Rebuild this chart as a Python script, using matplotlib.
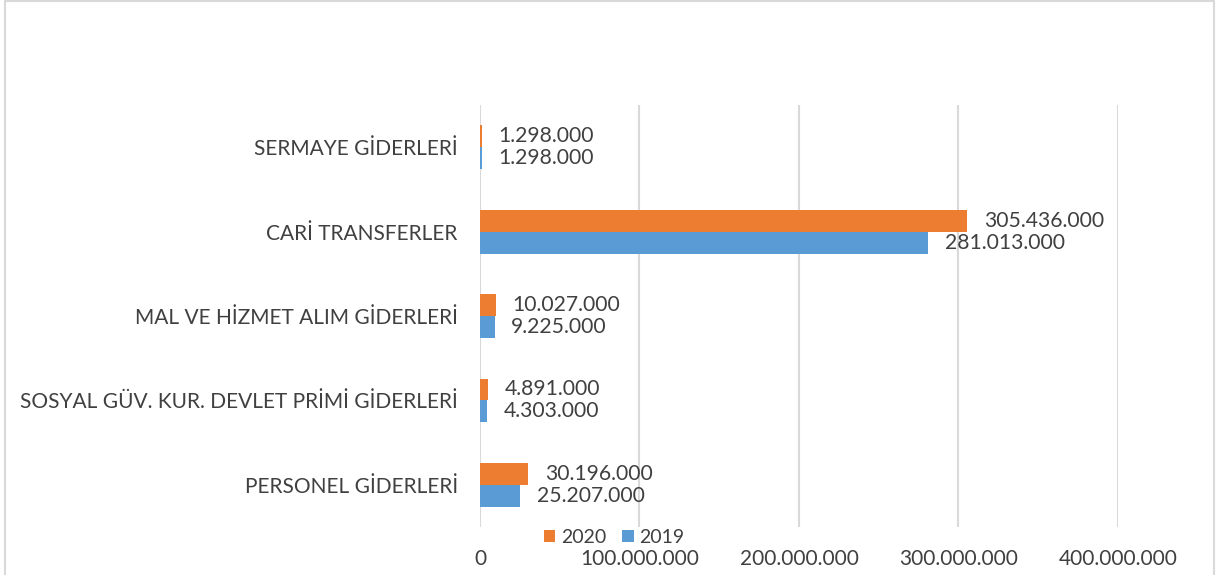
import matplotlib.pyplot as plt
import numpy as np
from matplotlib.patches import Rectangle

plt.rcParams['font.family'] = ['Lato', 'DejaVu Sans']

# veriler (alttan üste)
categories = ['PERSONEL GİDERLERİ', 'SOSYAL GÜV. KUR. DEVLET PRİMİ GİDERLERİ',
              'MAL VE HİZMET ALIM GİDERLERİ', 'CARİ TRANSFERLER', 'SERMAYE GİDERLERİ']
values_2019 = [25207000, 4303000, 9225000, 281013000, 1298000]
values_2020 = [30196000, 4891000, 10027000, 305436000, 1298000]
xticks = [0, 100000000, 200000000, 300000000, 400000000]

def tr_fmt(v):
    return f'{v:,.0f}'.replace(',', '.')

fig = plt.figure(figsize=(12.16, 5.75), dpi=100)
ax = fig.add_axes([0.3947, 0.0835, 0.5247, 0.7335])

y = np.arange(len(categories))
h = 0.26
b20 = ax.barh(y + h / 2, values_2020, height=h, color='#ED7D31', label='2020', zorder=3)
b19 = ax.barh(y - h / 2, values_2019, height=h, color='#5B9BD5', label='2019', zorder=3)

for bars, vals in ((b20, values_2020), (b19, values_2019)):
    for rect, v in zip(bars, vals):
        ax.annotate(tr_fmt(v), (v, rect.get_y() + rect.get_height() / 2),
                    xytext=(12, 0), textcoords='offset points',
                    ha='left', va='center', fontsize=15.2, color='#404040')

ax.set_xlim(0, 400000000)
ax.set_ylim(-0.5, len(categories) - 0.5)
ax.set_xticks(xticks)
ax.set_xticklabels([tr_fmt(t) for t in xticks], fontsize=15, color='#404040')
ax.set_yticks(y)
ax.set_yticklabels(categories, fontsize=15, color='#404040')
ax.tick_params(length=0)
ax.tick_params(axis='y', pad=16)
ax.tick_params(axis='x', pad=16)
ax.grid(axis='x', color='#d9d9d9', linewidth=1.5, zorder=0)
ax.set_axisbelow(True)
for s in ax.spines.values():
    s.set_visible(False)

leg = fig.legend(handles=[b20, b19], loc='center', bbox_to_anchor=(0.505, 0.066),
                 ncol=2, frameon=False, fontsize=14, handlelength=0.6, handleheight=0.6,
                 columnspacing=0.8, handletextpad=0.3, borderpad=0.1)
for t in leg.get_texts():
    t.set_color('#404040')

# çerçeve
fig.patches.append(Rectangle((5 / 1216, -0.1), 1209 / 1216, 1.1 - 1 / 575,
                             transform=fig.transFigure, fill=False,
                             edgecolor='#d9d9d9', linewidth=1.5))

fig.savefig('out.png', dpi=100)
